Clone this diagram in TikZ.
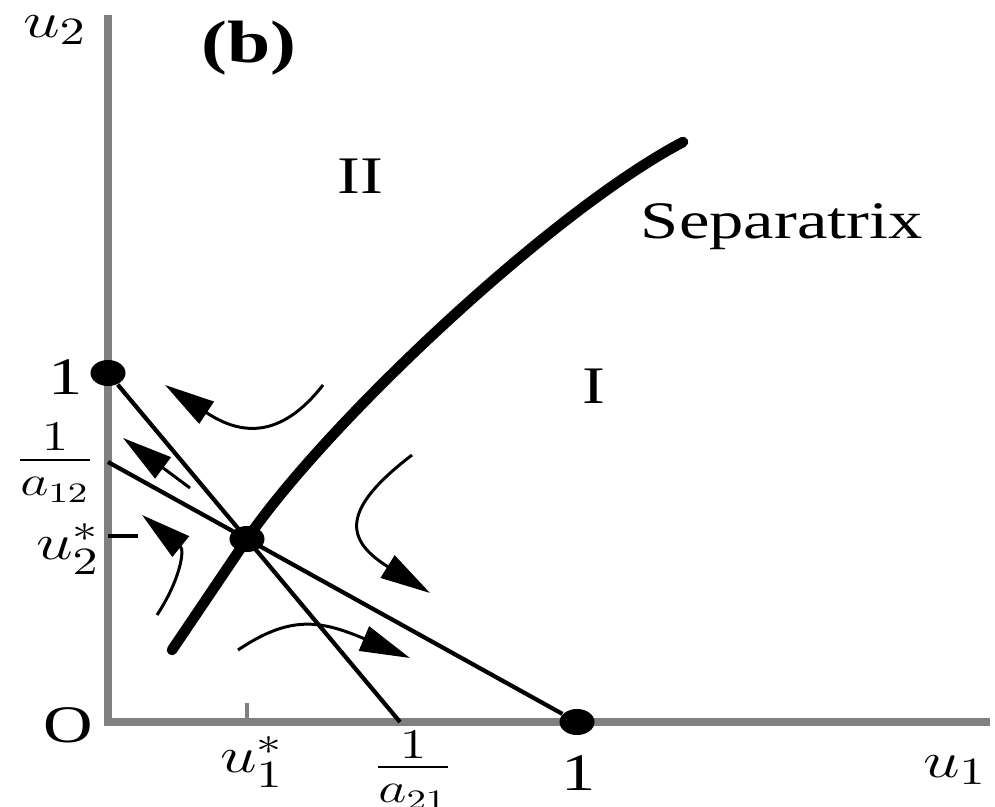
\documentclass[tikz,border=0pt]{standalone}
\usepackage{amsmath}
\usepackage{fontspec}
\setmainfont{Liberation Serif}
\usetikzlibrary{arrows.meta, shapes.geometric}

\begin{document}
\begin{tikzpicture}[
      x=0.01cm, y=-0.01cm,
      axisline/.style={line width=0.08cm, draw=black!50},
      nullcline/.style={line width=1.2pt},
      tickmark/.style={line width=1.2pt},
      separatrix/.style={line width=3pt, line cap=round},
      traj/.style={line width=0.85pt, -{Triangle[length=5mm, width=2.6mm]}},
      dot/.style={ellipse, fill, inner sep=0pt, minimum width=0.35cm, minimum height=0.26cm},
      lbl/.style={inner sep=0pt, xscale=1.3, font=\fontsize{15}{18}\selectfont},
      frac/.style={inner sep=0pt, xscale=1.3, font=\fontsize{17}{20}\selectfont}
      ]
      \useasboundingbox (0,0) rectangle (995,807);

      % Axes
      \coordinate (O) at (108,722);
      \coordinate (ytop) at (108,15);
      \coordinate (xend) at (990,722);
      \draw[axisline] (ytop) -- (O) -- (xend);

      % Equilibria
      \node[dot] (P01) at (108,373) {};
      \node[dot] (P10) at (577,722) {};
      \node[dot] (S) at (247,539) {};
      \coordinate (C12) at (108,462);
      \coordinate (D21) at (400,722);

      % Nullclines
      \draw[nullcline] (P01) -- (D21);
      \draw[nullcline] (C12) -- (P10);

      % Ticks
      \coordinate (tx) at (247,703);
      \coordinate (ty) at (138,536);
      \draw[tickmark, black!50] (tx) -- (S |- O);
      \draw[tickmark] (ty) -- (O |- ty);

      % Separatrix
      \coordinate (sepA) at (172,650);
      \coordinate (sepB) at (683,142);
      \draw[separatrix] (sepA) -- (S.center) .. controls (325,425) and (550,212) .. (sepB);

      % Trajectories
      \coordinate (t1s) at (323,385);  \coordinate (t1e) at (165,385);
      \coordinate (t2s) at (190,488);  \coordinate (t2e) at (123,438);
      \coordinate (t3s) at (157,615);  \coordinate (t3e) at (142,515);
      \coordinate (t4s) at (412,455);  \coordinate (t4e) at (430,593);
      \coordinate (t5s) at (238,650);  \coordinate (t5e) at (410,658);
      \draw[traj] (t1s) .. controls (280,440) and (240,435) .. (t1e);
      \draw[traj] (t2s) -- (t2e);
      \draw[traj] (t3s) .. controls (180,580) and (185,550) .. (t3e);
      \draw[traj] (t4s) .. controls (340,510) and (345,540) .. (t4e);
      \draw[traj] (t5s) .. controls (290,615) and (320,620) .. (t5e);

      % Labels
      \node[lbl] (u2lab) at (55,30) {$u_2$};
      \node[lbl, font=\bfseries\fontsize{17}{20}\selectfont] (panel) at (249,48) {(b)};
      \node[lbl] (regII) at (360,176) {II};
      \node[lbl, anchor=base west] (seplab) at (640,239) {Separatrix};
      \node[lbl, anchor=base] (regI) at (594,403) {I};
      \node[lbl] (one2) at (66,377) {1};
      \node[frac] (inv12) at (55,463) {$\frac{1}{a_{12}}$};
      \node[lbl] (ustar2) at (68,549) {$u_2^*$};
      \node[lbl] (orig) at (68,725) {O};
      \node[lbl] (ustar1) at (252,762) {$u_1^*$};
      \node[frac] (inv21) at (413,770) {$\frac{1}{a_{21}}$};
      \node[lbl] (one1) at (579,773) {1};
      \node[lbl] (u1lab) at (955,770) {$u_1$};
    \end{tikzpicture}
\end{document}
